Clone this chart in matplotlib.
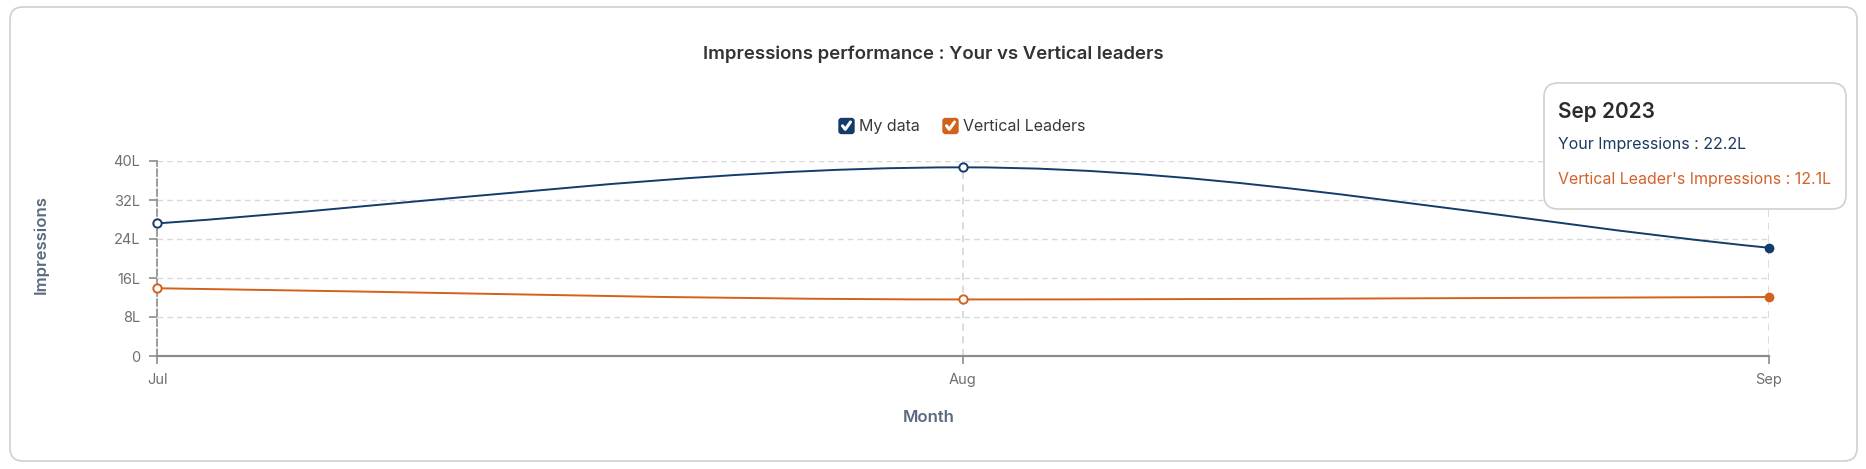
import numpy as np
import matplotlib
matplotlib.use("Agg")
import matplotlib.pyplot as plt
from matplotlib.path import Path
from matplotlib.patches import PathPatch, FancyBboxPatch
from matplotlib.lines import Line2D
from matplotlib.transforms import IdentityTransform

plt.rcParams['font.family'] = ['Inter', 'DejaVu Sans']

months = ["Jul", "Aug", "Sep"]
my_data = [27.2, 38.7, 22.2]
leaders = [13.9, 11.6, 12.1]
yticks = [0, 8, 16, 24, 32, 40]
tooltip_month = "Sep 2023"

W, H = 1866, 469
BLUE = "#133c6b"
ORANGE = "#d2611c"
GRID = "#d9d9d9"
TICK = "#6f6f6f"
SLATE = "#5b6b7d"


def smooth_path(x, y):
    # monotone cubic bezier through the points (like the web chart's smooth line)
    x = np.asarray(x, float)
    y = np.asarray(y, float)
    d = np.diff(y) / np.diff(x)
    m = np.zeros_like(y)
    m[0], m[-1] = d[0], d[-1]
    for i in range(1, len(y) - 1):
        if d[i - 1] * d[i] > 0:
            m[i] = 2 / (1 / d[i - 1] + 1 / d[i])
    verts = [(x[0], y[0])]
    codes = [Path.MOVETO]
    for i in range(len(x) - 1):
        h = x[i + 1] - x[i]
        verts += [(x[i] + h / 3, y[i] + m[i] * h / 3),
                  (x[i + 1] - h / 3, y[i + 1] - m[i + 1] * h / 3),
                  (x[i + 1], y[i + 1])]
        codes += [Path.CURVE4] * 3
    return Path(verts, codes)


def top(y):
    return H - y


fig = plt.figure(figsize=(W / 100, H / 100), dpi=100)
pix = IdentityTransform()

# card border
card = FancyBboxPatch((10, top(461)), 1847, 454,
                      boxstyle="round,pad=0,rounding_size=13",
                      transform=pix, facecolor="white",
                      edgecolor="#cfcfd4", linewidth=1.2, zorder=-1)
fig.patches.append(card)

ax = fig.add_axes([157 / W, 113 / H, (1769 - 157) / W, (356 - 161) / H])
ax.set_facecolor("none")
x = np.arange(len(months))

for v in yticks[1:]:
    ax.axhline(v, color=GRID, lw=1, ls=(0, (4, 3)), zorder=1)
for xi in x[1:]:
    ax.axvline(xi, color=GRID, lw=1.3, ls=(0, (4, 3)), zorder=1)

ax.add_patch(PathPatch(smooth_path(x, my_data), fill=False, edgecolor=BLUE, lw=1.4, zorder=3))
ax.add_patch(PathPatch(smooth_path(x, leaders), fill=False, edgecolor=ORANGE, lw=1.4, zorder=3))

ax.plot(x[:-1], my_data[:-1], "o", ms=6, mfc="white", mec=BLUE, mew=1.4, zorder=4, clip_on=False)
ax.plot(x[:-1], leaders[:-1], "o", ms=6, mfc="white", mec=ORANGE, mew=1.4, zorder=4, clip_on=False)
ax.plot(x[-1:], my_data[-1:], "o", ms=6, color=BLUE, zorder=4, clip_on=False)
ax.plot(x[-1:], leaders[-1:], "o", ms=6, color=ORANGE, zorder=4, clip_on=False)

ax.set_xlim(0, len(months) - 1)
ax.set_ylim(0, 40)
ax.set_xticks(x)
ax.set_xticklabels(months)
ax.set_yticks(yticks)
ax.set_yticklabels([f"{v}L" if v else "0" for v in yticks])
for s in ["top", "right"]:
    ax.spines[s].set_visible(False)
ax.spines["left"].set_color("#8c8c8c")
ax.spines["left"].set_linestyle((0, (4, 2)))
ax.spines["left"].set_linewidth(1.2)
ax.spines["bottom"].set_color("#8c8c8c")
ax.spines["bottom"].set_linestyle((0, (3, 1)))
ax.spines["bottom"].set_linewidth(1.6)
ax.tick_params(axis="both", colors="#8c8c8c", labelcolor=TICK, labelsize=10.5,
               length=6, width=1.2)
ax.tick_params(axis="x", pad=6)
ax.tick_params(axis="y", pad=6)

fig.text(933, top(54), "Impressions performance : Your vs Vertical leaders", transform=pix,
         ha="center", va="center", fontsize=13.4, fontweight="semibold", color="#333333")
fig.text(41, top(245), "Impressions", transform=pix, rotation=90, ha="center", va="center",
         fontsize=12, fontweight="semibold", color=SLATE)
fig.text(929, top(417), "Month", transform=pix, ha="center", va="center",
         fontsize=12, fontweight="semibold", color=SLATE)


# legend with check boxes
def checkbox(x0, yc, color, label):
    s = 15
    fig.patches.append(FancyBboxPatch((x0, top(yc) - s / 2), s, s,
                                      boxstyle="round,pad=0,rounding_size=2.5",
                                      transform=pix, facecolor=color, edgecolor=color, zorder=5))
    fig.lines.append(Line2D([x0 + 3.5, x0 + 6.3, x0 + 11.5],
                            [top(yc) + 0.2, top(yc) - 3.3, top(yc) + 4],
                            transform=pix, color="white", lw=2.2, solid_capstyle="round",
                            solid_joinstyle="round", zorder=6))
    fig.text(x0 + s + 5, top(yc), label, transform=pix, ha="left", va="center",
             fontsize=11.5, color="#3a3a3a")


checkbox(839, 126, BLUE, "My data")
checkbox(943, 126, ORANGE, "Vertical Leaders")

# hover tooltip for the last month
fig.patches.append(FancyBboxPatch((1544, top(209)), 302, 126,
                                  boxstyle="round,pad=0,rounding_size=14",
                                  transform=pix, facecolor="white",
                                  edgecolor="#d0d0d0", linewidth=1.2, zorder=7))
fig.text(1558, top(112), tooltip_month, transform=pix, ha="left", va="center",
         fontsize=15, fontweight="semibold", color="#2b2b2b", zorder=8)
fig.text(1558, top(144), f"Your Impressions : {my_data[-1]}L", transform=pix, ha="left",
         va="center", fontsize=11.5, color="#1d3a62", zorder=8)
fig.text(1558, top(179), f"Vertical Leader's Impressions : {leaders[-1]}L", transform=pix,
         ha="left", va="center", fontsize=11.5, color="#d4622c", zorder=8)

fig.savefig("out.png", dpi=100, facecolor="white")
